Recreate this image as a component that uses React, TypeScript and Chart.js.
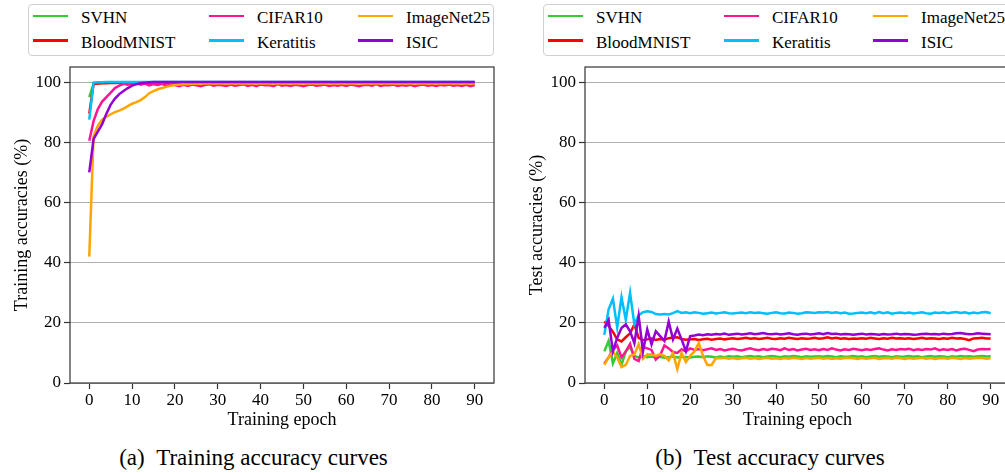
import React, { useEffect, useRef } from "react";
import { Chart, registerables } from "chart.js";

Chart.register(...registerables);

const FONT = '"Liberation Serif", "DejaVu Serif", "Times New Roman", serif';

const EPOCHS = Array.from({ length: 91 }, (_, i) => i);
const X_TICKS = [0, 10, 20, 30, 40, 50, 60, 70, 80, 90];
const Y_TICKS = [0, 20, 40, 60, 80, 100];

const SERIES_NAMES = ["SVHN", "BloodMNIST", "CIFAR10", "Keratitis", "ImageNet25", "ISIC"];
const SERIES_COLORS = ["#32cd32", "#ff0000", "#ff1493", "#00bfff", "#ffa500", "#9400d3"];

// ---------- Training accuracies ----------
const SVHN_TRAIN = [
  95.0, 99.4, 99.6, 99.7, 99.8, 99.8, 99.8, 99.9, 99.9, 99.9,
  99.9, 99.9, 99.9, 99.9, 99.9, 99.9, 99.9, 99.9, 99.9, 99.9,
  99.9, 99.9, 99.9, 99.9, 99.9, 99.9, 99.9, 99.9, 99.9, 99.9,
  99.9, 99.9, 99.9, 99.9, 99.9, 99.9, 99.9, 99.9, 99.9, 99.9,
  99.9, 99.9, 99.9, 99.9, 99.9, 99.9, 99.9, 99.9, 99.9, 99.9,
  99.9, 99.9, 99.9, 99.9, 99.9, 99.9, 99.9, 99.9, 99.9, 99.9,
  99.9, 99.9, 99.9, 99.9, 99.9, 99.9, 99.9, 99.9, 99.9, 99.9,
  99.9, 99.9, 99.9, 99.9, 99.9, 99.9, 99.9, 99.9, 99.9, 99.9,
  99.9, 99.9, 99.9, 99.9, 99.9, 99.9, 99.9, 99.9, 99.9, 99.9,
  99.9,
];
const BLOOD_TRAIN = [
  89.5, 99.3, 99.5, 99.6, 99.6, 99.7, 99.7, 99.8, 99.8, 99.8,
  99.8, 99.8, 99.8, 99.8, 99.8, 99.8, 99.8, 99.8, 99.8, 99.8,
  99.8, 99.8, 99.8, 99.8, 99.8, 99.8, 99.8, 99.8, 99.8, 99.8,
  99.8, 99.8, 99.8, 99.8, 99.8, 99.8, 99.8, 99.8, 99.8, 99.8,
  99.8, 99.8, 99.8, 99.8, 99.8, 99.8, 99.8, 99.8, 99.8, 99.8,
  99.8, 99.8, 99.8, 99.8, 99.8, 99.8, 99.8, 99.8, 99.8, 99.8,
  99.8, 99.8, 99.8, 99.8, 99.8, 99.8, 99.8, 99.8, 99.8, 99.8,
  99.8, 99.8, 99.8, 99.8, 99.8, 99.8, 99.8, 99.8, 99.8, 99.8,
  99.8, 99.8, 99.8, 99.8, 99.8, 99.8, 99.8, 99.8, 99.8, 99.8,
  99.8,
];
const CIFAR_TRAIN = [
  80.5, 87.0, 91.0, 93.5, 95.0, 96.5, 98.0, 98.8, 99.4, 99.1,
  99.5, 99.7, 99.1, 99.5, 98.9, 99.3, 99.0, 99.4, 98.8, 99.2,
  99.0, 98.6, 99.1, 98.7, 99.2, 98.9, 98.6, 99.0, 99.3, 98.8,
  99.1, 98.9, 98.7, 99.2, 98.8, 99.0, 99.3, 98.7, 99.1, 98.6,
  99.2, 98.9, 99.0, 98.6, 99.3, 98.8, 99.0, 98.7, 99.1, 98.9,
  98.6, 99.0, 99.2, 98.8, 98.9, 99.2, 98.7, 99.0, 98.8, 99.1,
  98.7, 99.2, 98.9, 98.6, 99.0, 99.1, 98.8, 99.3, 98.7, 99.0,
  98.9, 99.2, 98.7, 99.0, 98.8, 99.1, 98.6, 99.0, 99.2, 98.8,
  99.0, 98.7, 99.1, 98.9, 99.2, 98.8, 99.0, 98.7, 99.1, 98.6,
  99.0,
];
const KERATITIS_TRAIN = [
  87.5, 99.8, 99.9, 99.9, 100, 100, 100, 100, 100, 100,
  100, 100, 100, 100, 100, 100, 100, 100, 100, 100,
  100, 100, 100, 100, 100, 100, 100, 100, 100, 100,
  100, 100, 100, 100, 100, 100, 100, 100, 100, 100,
  100, 100, 100, 100, 100, 100, 100, 100, 100, 100,
  100, 100, 100, 100, 100, 100, 100, 100, 100, 100,
  100, 100, 100, 100, 100, 100, 100, 100, 100, 100,
  100, 100, 100, 100, 100, 100, 100, 100, 100, 100,
  100, 100, 100, 100, 100, 100, 100, 100, 100, 100,
  100,
];
const IMAGENET_TRAIN = [
  42.0, 82.0, 85.5, 87.5, 88.5, 89.3, 90.0, 90.5, 91.2, 92.0,
  92.8, 93.3, 94.0, 95.0, 96.3, 97.0, 97.6, 98.0, 98.4, 98.8,
  99.0, 99.2, 99.3, 99.3, 99.4, 99.4, 99.5, 99.5, 99.5, 99.5,
  99.5, 99.5, 99.6, 99.5, 99.5, 99.6, 99.5, 99.5, 99.6, 99.5,
  99.5, 99.6, 99.5, 99.5, 99.6, 99.5, 99.5, 99.6, 99.5, 99.5,
  99.6, 99.5, 99.5, 99.6, 99.5, 99.5, 99.6, 99.5, 99.5, 99.6,
  99.5, 99.5, 99.6, 99.5, 99.5, 99.6, 99.5, 99.5, 99.6, 99.5,
  99.5, 99.6, 99.5, 99.5, 99.6, 99.5, 99.5, 99.6, 99.5, 99.5,
  99.6, 99.5, 99.5, 99.6, 99.5, 99.5, 99.6, 99.5, 99.5, 99.6,
  99.5,
];
const ISIC_TRAIN = [
  70.0, 81.0, 83.5, 86.0, 89.5, 92.5, 94.5, 96.0, 97.0, 98.0,
  98.8, 99.3, 99.6, 99.8, 99.9, 100, 100, 100, 100, 100,
  100, 100, 100, 100, 100, 100, 100, 100, 100, 100,
  100, 100, 100, 100, 100, 100, 100, 100, 100, 100,
  100, 100, 100, 100, 100, 100, 100, 100, 100, 100,
  100, 100, 100, 100, 100, 100, 100, 100, 100, 100,
  100, 100, 100, 100, 100, 100, 100, 100, 100, 100,
  100, 100, 100, 100, 100, 100, 100, 100, 100, 100,
  100, 100, 100, 100, 100, 100, 100, 100, 100, 100,
  100,
];

// ---------- Test accuracies ----------
const SVHN_TEST = [
  10.5, 14.0, 6.5, 10.0, 6.0, 10.5, 12.0, 9.0, 8.5, 9.0,
  8.6, 8.8, 8.5, 8.7, 8.4, 8.6, 8.8, 8.5, 8.7, 8.6,
  8.5, 8.7, 8.8, 8.6, 8.9, 8.7, 8.5, 8.8, 8.6, 8.9,
  8.7, 8.9, 8.6, 8.8, 9.0, 8.7, 8.9, 8.6, 8.8, 9.0,
  8.8, 8.6, 8.9, 8.7, 9.0, 8.8, 8.6, 8.9, 8.7, 8.8,
  8.9, 8.7, 9.0, 8.8, 8.6, 8.9, 8.7, 8.8, 9.0, 8.7,
  8.9, 8.6, 8.8, 9.0, 8.7, 8.9, 8.8, 8.6, 8.9, 8.7,
  8.8, 9.0, 8.7, 8.9, 8.6, 8.8, 9.0, 8.7, 8.9, 8.8,
  8.6, 8.9, 8.7, 9.0, 8.8, 8.9, 8.7, 8.9, 9.0, 8.8,
  8.9,
];
const BLOOD_TEST = [
  20.5, 19.0, 17.0, 14.5, 13.8, 15.2, 16.5, 19.5, 15.0, 14.2,
  14.5, 14.8, 14.3, 14.6, 14.4, 14.9, 15.1, 15.2, 14.6, 14.4,
  14.5, 14.6, 14.3, 14.5, 14.7, 14.4, 14.6, 14.8, 14.5, 14.7,
  14.9, 14.6, 14.8, 15.0, 14.7, 14.9, 14.6, 14.8, 15.0, 14.7,
  14.6, 14.9, 14.7, 15.0, 14.8, 14.6, 14.9, 14.7, 14.8, 15.0,
  14.7, 14.9, 15.2, 14.8, 15.0, 14.7, 14.9, 14.6, 14.8, 14.7,
  14.9, 14.7, 15.0, 14.8, 14.6, 14.9, 14.7, 15.0, 14.8, 14.9,
  14.7, 14.9, 14.6, 14.8, 15.0, 14.7, 14.9, 14.8, 14.6, 14.9,
  14.7, 15.0, 14.8, 14.9, 14.6, 14.2, 14.8, 14.9, 15.0, 14.8,
  14.8,
];
const CIFAR_TEST = [
  6.5, 8.5, 11.0, 12.5, 8.5, 10.5, 13.0, 8.0, 7.3, 12.0,
  11.5, 11.0, 7.8, 9.2, 12.5, 11.5, 10.3, 10.0, 11.2, 10.5,
  11.5, 11.0, 11.3, 10.9, 11.2, 11.5, 11.0, 11.3, 10.8, 11.1,
  11.4, 11.0, 10.8, 11.2, 11.5, 11.1, 10.9, 11.3, 11.0, 11.4,
  11.2, 10.9, 11.5, 11.0, 11.3, 10.8, 11.1, 11.4, 11.0, 11.2,
  10.9, 11.3, 11.0, 11.5, 11.1, 10.8, 11.2, 11.0, 11.4, 11.1,
  10.9, 11.2, 11.0, 11.3, 11.5, 11.1, 10.8, 11.2, 11.0, 11.3,
  11.1, 11.4, 10.9, 11.2, 11.0, 11.3, 11.1, 11.5, 10.9, 11.2,
  11.0, 11.3, 10.8, 11.2, 11.4, 11.0, 10.6, 11.1, 11.3, 11.2,
  11.3,
];
const KERATITIS_TEST = [
  16.0, 24.5, 28.0, 18.5, 28.5, 21.0, 30.0, 19.5, 22.5, 23.5,
  23.8, 23.6, 22.9, 22.8, 22.9, 22.8, 23.2, 23.9, 23.3, 23.5,
  23.2, 23.5, 23.3, 23.0, 23.2, 23.4, 23.1, 23.3, 23.5, 23.2,
  23.1, 23.3, 23.4, 23.2, 23.5, 23.3, 23.4, 23.2, 23.0, 23.3,
  23.5, 23.2, 23.1, 23.4, 23.3, 23.0, 23.2, 23.5, 23.4, 23.3,
  23.5, 23.4, 23.6, 23.3, 23.5, 23.2, 23.4, 23.0, 23.1, 23.3,
  23.4, 23.2, 23.5, 23.1, 23.6, 23.2, 23.5, 23.0, 23.3, 23.4,
  23.2, 23.4, 23.1, 23.3, 23.5, 23.2, 23.0, 23.4, 23.3, 23.5,
  23.2, 23.4, 23.6, 23.3, 23.5, 23.1, 23.4, 23.2, 23.5, 23.6,
  23.2,
];
const IMAGENET_TEST = [
  6.0, 8.5, 10.5, 8.5, 5.3, 6.0, 9.0, 9.5, 12.9, 8.0,
  9.5, 9.5, 9.0, 9.5, 9.0, 7.5, 10.0, 4.6, 10.0, 7.0,
  9.0, 10.5, 13.3, 9.0, 6.0, 6.0, 8.3, 8.2, 8.4, 8.1,
  8.3, 8.0, 8.2, 8.4, 8.1, 8.3, 8.0, 8.2, 8.4, 8.1,
  8.2, 8.0, 8.3, 8.1, 8.4, 8.2, 8.0, 8.3, 8.1, 8.2,
  8.4, 8.1, 8.3, 8.0, 8.2, 8.1, 8.3, 8.4, 8.2, 8.0,
  8.3, 8.1, 8.2, 8.4, 8.0, 8.2, 8.3, 8.1, 8.4, 8.2,
  8.0, 8.3, 8.1, 8.2, 8.4, 8.1, 8.3, 8.0, 8.2, 8.3,
  8.1, 8.4, 8.2, 8.0, 8.3, 8.1, 8.2, 8.4, 8.3, 8.1,
  8.2,
];
const ISIC_TEST = [
  18.3, 21.0, 10.5, 15.0, 18.3, 19.5, 17.2, 13.2, 22.3, 10.5,
  17.8, 12.8, 17.2, 15.6, 14.0, 20.4, 14.5, 18.1, 14.5, 10.6,
  15.6, 15.8, 16.1, 15.9, 16.2, 16.0, 16.3, 16.1, 16.4, 16.0,
  16.2, 16.4, 16.1, 16.3, 16.5, 16.2, 16.4, 16.6, 16.3, 16.2,
  16.4, 16.1, 16.3, 16.5, 16.2, 16.0, 16.3, 16.4, 16.1, 16.3,
  16.5, 16.2, 16.6, 16.3, 16.4, 16.1, 16.3, 16.2, 16.0, 16.2,
  16.4, 16.1, 16.3, 16.2, 16.0, 16.3, 16.1, 16.2, 16.4, 16.1,
  16.3, 16.2, 16.0, 16.1, 16.3, 16.4, 16.2, 16.3, 16.1, 16.4,
  16.2, 16.3, 16.5, 16.6, 16.4, 16.2, 16.3, 16.5, 16.4, 16.3,
  16.2,
];

const TRAIN_SERIES = [SVHN_TRAIN, BLOOD_TRAIN, CIFAR_TRAIN, KERATITIS_TRAIN, IMAGENET_TRAIN, ISIC_TRAIN];
const TEST_SERIES = [SVHN_TEST, BLOOD_TEST, CIFAR_TEST, KERATITIS_TEST, IMAGENET_TEST, ISIC_TEST];

const framePlugin = {
  id: "frame",
  afterDatasetsDraw(chart: any) {
    const { ctx, chartArea } = chart;
    const { left, top, right, bottom } = chartArea;
    ctx.save();
    ctx.strokeStyle = "#333333";
    ctx.lineWidth = 1.2;
    ctx.strokeRect(left, top, right - left, bottom - top);
    ctx.restore();
  },
};

type PanelProps = {
  x: number;
  y: number;
  w: number;
  h: number;
  yWidth: number;
  padRight: number;
  padTop: number;
  yTitle: string;
  yTitlePad: number;
  series: number[][];
};

function Panel(props: PanelProps) {
  const ref = useRef<HTMLCanvasElement | null>(null);
  useEffect(() => {
    if (!ref.current) return;
    const tickFont = { family: FONT, size: 17 };
    const titleFont = { family: FONT, size: 18 };
    const chart = new Chart(ref.current, {
      type: "line",
      data: {
        datasets: props.series.map((vals, i) => ({
          label: SERIES_NAMES[i],
          data: EPOCHS.map((e, k) => ({ x: e, y: vals[k] })),
          borderColor: SERIES_COLORS[i],
          backgroundColor: SERIES_COLORS[i],
          borderWidth: 2.5,
          pointRadius: 0,
          pointHoverRadius: 0,
          tension: 0,
          fill: false,
          order: SERIES_NAMES.length - 1 - i,
        })),
      },
      options: {
        animation: false,
        responsive: false,
        maintainAspectRatio: false,
        layout: { padding: { left: 0, top: props.padTop, right: props.padRight, bottom: 0 } },
        plugins: {
          legend: { display: false },
          tooltip: { enabled: false },
        },
        scales: {
          x: {
            type: "linear",
            min: -4.5,
            max: 94.5,
            afterBuildTicks: (s: any) => {
              s.ticks = X_TICKS.map((v) => ({ value: v }));
            },
            afterFit: (s: any) => {
              s.height = 57;
              s.paddingLeft = 0;
              s.paddingRight = 0;
            },
            grid: {
              drawOnChartArea: false,
              drawTicks: true,
              tickLength: 6,
              tickColor: "#333333",
              tickWidth: 1.2,
            },
            border: { display: false },
            ticks: { color: "#000", font: tickFont, padding: 1, maxRotation: 0, autoSkip: false },
            title: {
              display: true,
              text: "Training epoch",
              color: "#000",
              font: titleFont,
              padding: { top: 0, bottom: 9 },
            },
          },
          y: {
            type: "linear",
            min: 0,
            max: 105,
            afterBuildTicks: (s: any) => {
              s.ticks = Y_TICKS.map((v) => ({ value: v }));
            },
            afterFit: (s: any) => {
              s.width = props.yWidth;
              s.paddingTop = 0;
              s.paddingBottom = 0;
            },
            grid: {
              color: "#b0b0b0",
              lineWidth: 1,
              drawTicks: true,
              tickLength: 6,
              tickColor: "#333333",
              tickWidth: 1.2,
            },
            border: { display: false },
            ticks: { color: "#000", font: tickFont, padding: 3 },
            title: {
              display: true,
              text: props.yTitle,
              color: "#000",
              font: titleFont,
              padding: { top: props.yTitlePad, bottom: 0 },
            },
          },
        },
      },
      plugins: [framePlugin],
    } as any);
    return () => chart.destroy();
  }, []);
  return (
    <canvas
      ref={ref}
      width={props.w}
      height={props.h}
      style={{ position: "absolute", left: props.x, top: props.y, width: props.w, height: props.h }}
    />
  );
}

const LINE_OFF = [5, 181, 330];
const TEXT_OFF = [53, 229, 378];
const ROW_LINE_Y = [16, 40.7];
const ROW_TEXT_TOP = [7.6, 32.6];

function Legend({ left }: { left: number }) {
  const items: React.ReactNode[] = [];
  SERIES_NAMES.forEach((name, i) => {
    const col = Math.floor(i / 2);
    const row = i % 2;
    items.push(
      <div
        key={"l" + i}
        style={{
          position: "absolute",
          left: left + LINE_OFF[col],
          top: ROW_LINE_Y[row] - 1.25,
          width: 35,
          height: 2.5,
          background: SERIES_COLORS[i],
        }}
      />
    );
    items.push(
      <div
        key={"t" + i}
        style={{
          position: "absolute",
          left: left + TEXT_OFF[col],
          top: ROW_TEXT_TOP[row],
          fontFamily: FONT,
          fontSize: 17,
          lineHeight: "20px",
          color: "#000",
          whiteSpace: "nowrap",
        }}
      >
        {name}
      </div>
    );
  });
  return (
    <>
      <div
        style={{
          position: "absolute",
          left: left,
          top: 4,
          width: 466,
          height: 52,
          boxSizing: "border-box",
          border: "1px solid #d0d0d0",
          borderRadius: 4,
          background: "rgba(255,255,255,0.8)",
        }}
      />
      {items}
    </>
  );
}

function Caption({ center, text }: { center: number; text: string }) {
  return (
    <div
      style={{
        position: "absolute",
        left: center - 250,
        width: 500,
        top: 446,
        textAlign: "center",
        fontFamily: FONT,
        fontSize: 23,
        lineHeight: "23px",
        color: "#000",
        whiteSpace: "pre",
      }}
    >
      {text}
    </div>
  );
}

export default function App() {
  return (
    <div
      style={{
        position: "absolute",
        left: 0,
        top: 0,
        width: 1005,
        height: 474,
        overflow: "hidden",
        background: "#fff",
      }}
    >
      <Panel
        x={0}
        y={60}
        w={500}
        h={380}
        yWidth={70}
        padRight={6}
        padTop={7}
        yTitle="Training accuracies (%)"
        yTitlePad={11}
        series={TRAIN_SERIES}
      />
      <Panel
        x={500}
        y={60}
        w={515}
        h={380}
        yWidth={85}
        padRight={5}
        padTop={7}
        yTitle="Test accuracies (%)"
        yTitlePad={26}
        series={TEST_SERIES}
      />
      <Legend left={28} />
      <Legend left={543} />
      <Caption center={253.5} text={"(a)\u2002Training accuracy curves"} />
      <Caption center={770} text={"(b)\u2002Test accuracy curves"} />
    </div>
  );
}
